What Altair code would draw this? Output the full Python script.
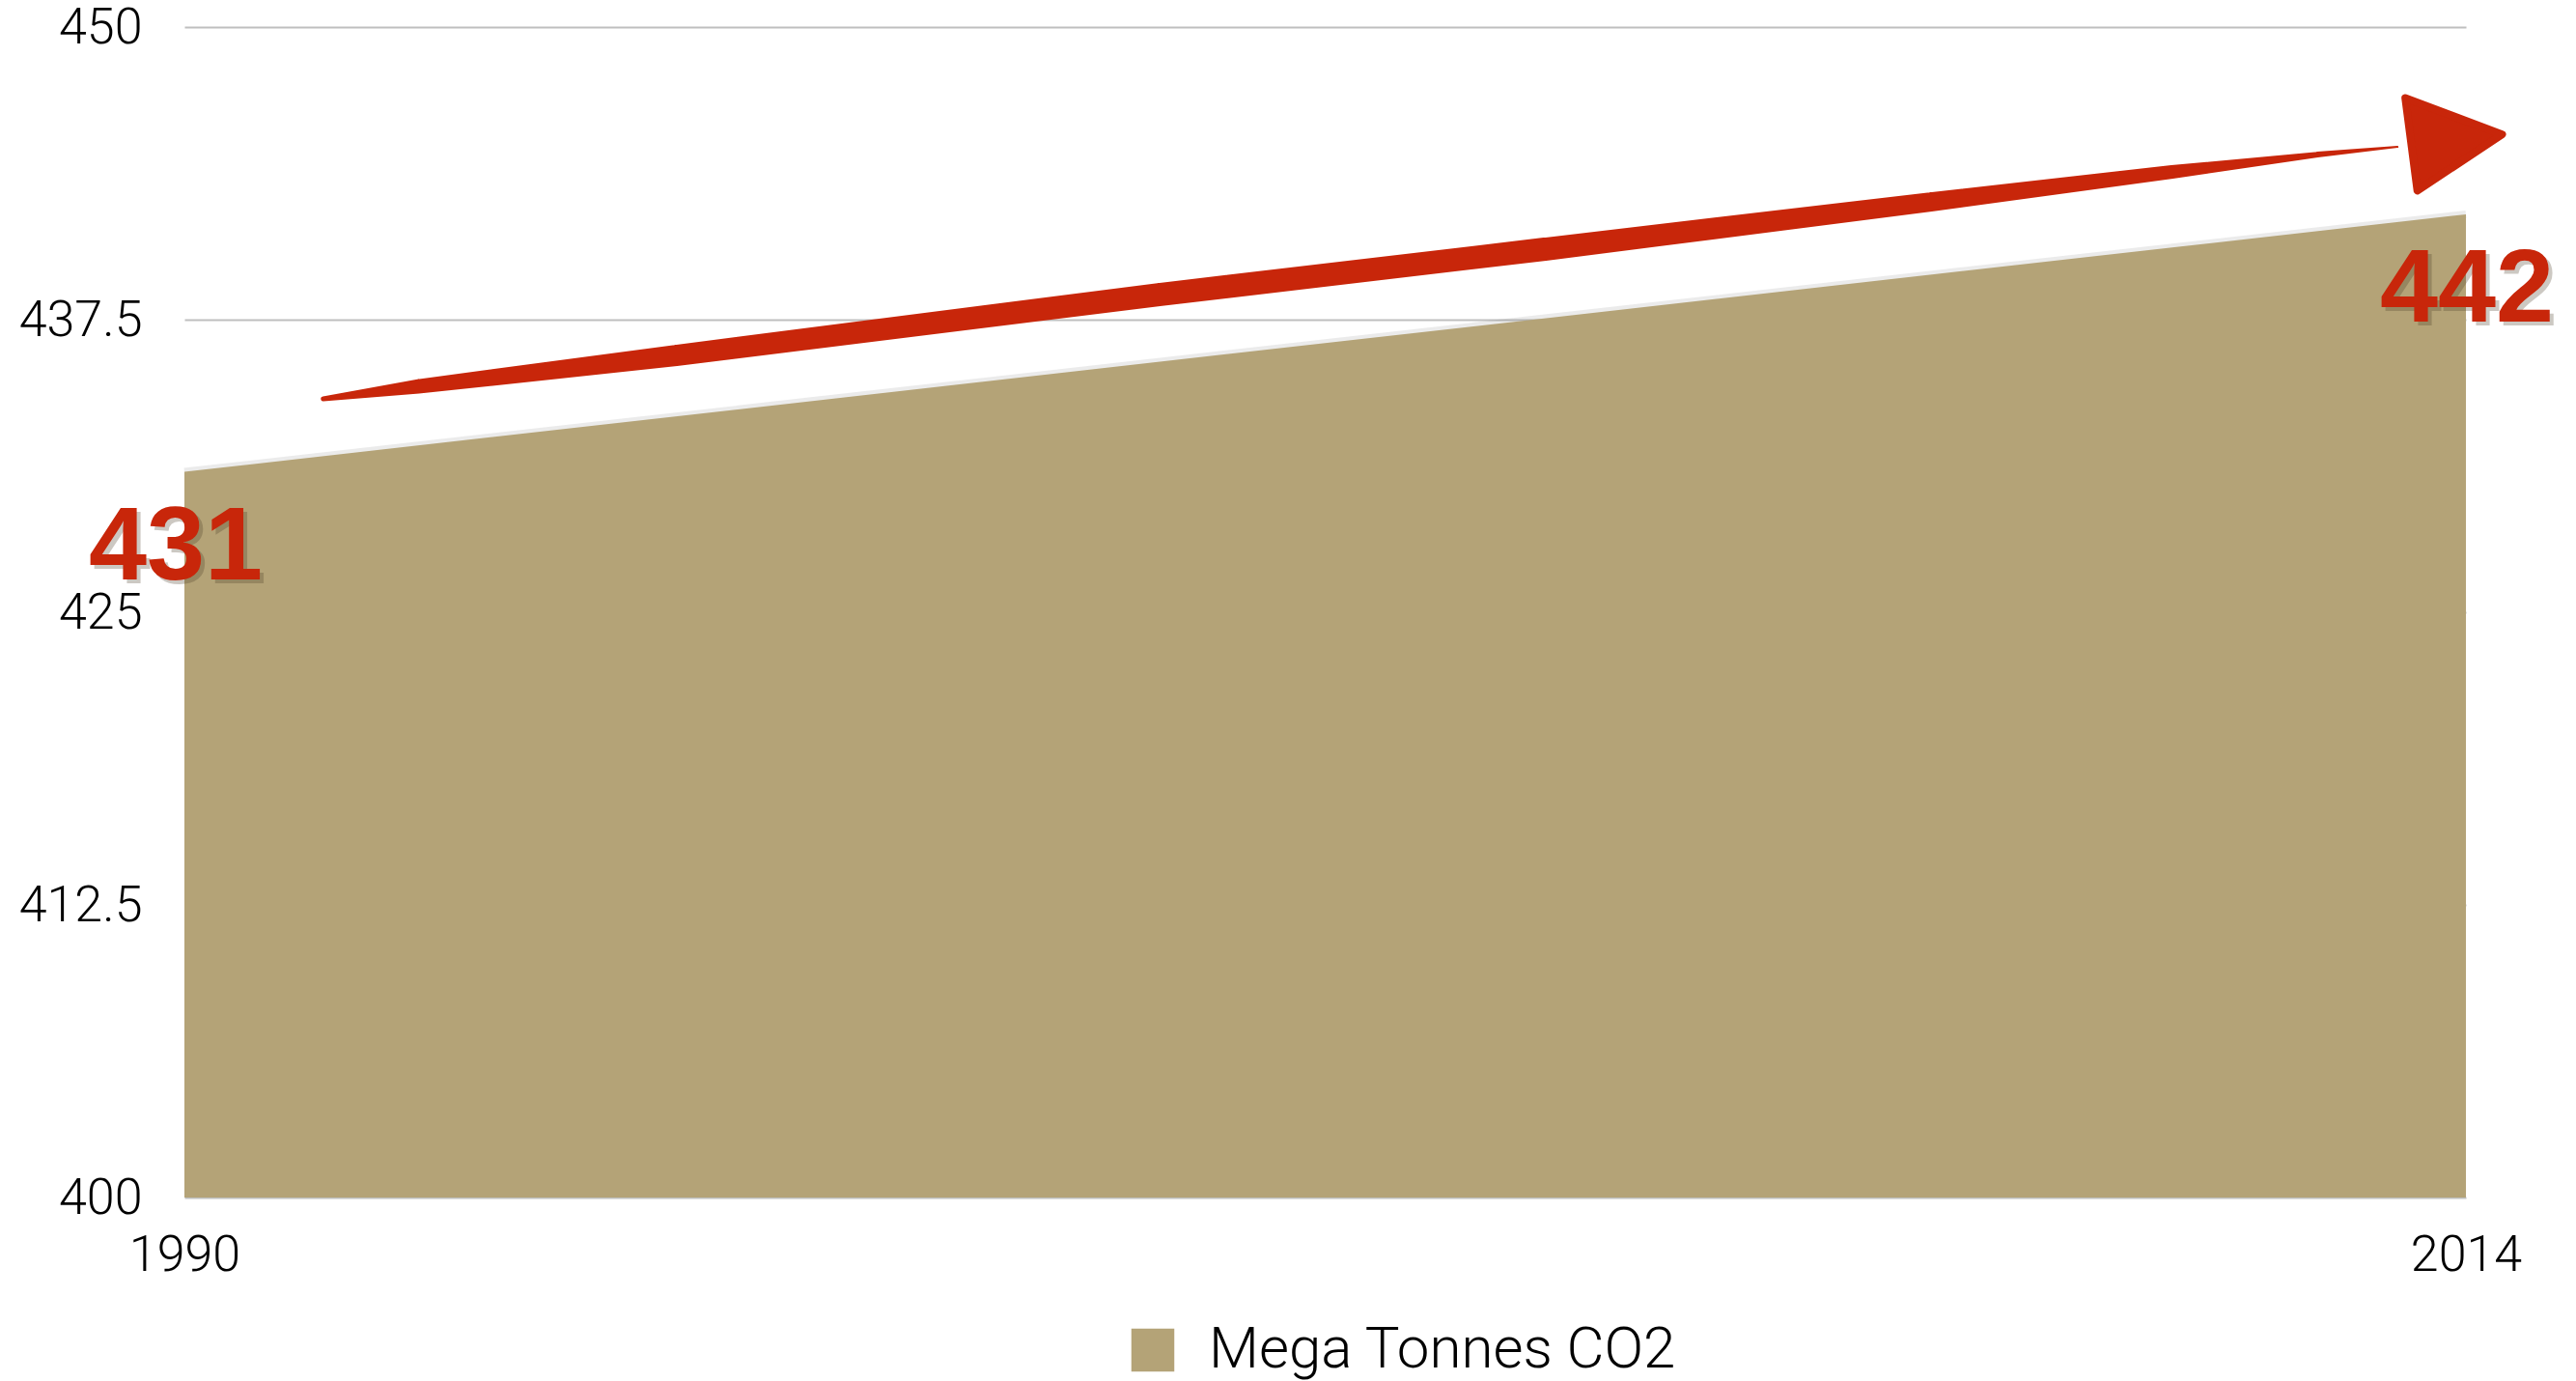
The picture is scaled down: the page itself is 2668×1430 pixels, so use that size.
import altair as alt
import pandas as pd

# ---- data ----
years = [1990, 2014]
emissions = [431, 442]
series_name = "Mega Tonnes CO2"
y_ticks = [400, 412.5, 425, 437.5, 450]
x_ticks = [1990, 2014]
label_texts = ["431", "442"]
baseline_value = 400

# hand-drawn trend arrow annotation (in data coordinates)
arrow_years = [1991.46, 1992.46, 1995.17, 2000.25, 2004.31, 2008.37, 2010.91, 2012.44, 2013.28]
arrow_values = [434.12, 434.65, 435.97, 438.57, 440.51, 442.53, 443.81, 444.55, 444.88]
arrow_widths = [5, 15, 22, 24, 24, 20, 14, 6, 2]
head_year = [2013.86]
head_value = [445.13]

AREA_COLOR = "#B4A377"
RED = "#C8260A"
LIGHT_FONT = "Roboto"

df = pd.DataFrame({"year": years, "value": emissions, "series": [series_name] * len(years),
                   "label": label_texts})
arrow_df = pd.DataFrame({"year": arrow_years, "value": arrow_values, "w": arrow_widths})
head_df = pd.DataFrame({"year": head_year, "value": head_value})

x_scale = alt.Scale(domain=[1990, 2014], nice=False, zero=False)
y_scale = alt.Scale(domain=[400, 450], nice=False, zero=False)

x_axis = alt.Axis(values=x_ticks, format="d", title=None, grid=False, domain=False, ticks=False,
                  labelFlush=False, labelPadding=34, labelFontSize=52, labelFont=LIGHT_FONT,
                  labelFontWeight=300, labelColor="#000000")
y_axis = alt.Axis(values=y_ticks, labelExpr="datum.value", title=None, grid=True, gridColor="#BFBFBF",
                  gridWidth=2, domain=False, ticks=False, labelPadding=44, labelFontSize=52,
                  labelFont=LIGHT_FONT, labelFontWeight=300, labelColor="#000000")

X = alt.X("year:Q", scale=x_scale, axis=x_axis)
Y = alt.Y("value:Q", scale=y_scale, axis=y_axis)

base = alt.Chart(df)

shadow = base.mark_line(color="#7a7a7a", strokeWidth=8, opacity=0.15).encode(x=X, y=Y)

area = base.mark_area(opacity=1).encode(
    x=X, y=Y, y2=alt.datum(baseline_value),
    color=alt.Color("series:N", scale=alt.Scale(domain=[series_name], range=[AREA_COLOR]),
                    legend=alt.Legend(title=None, orient="none", legendX=973, legendY=1340,
                                      symbolType="square", symbolSize=1980, symbolOpacity=1,
                                      symbolStrokeWidth=0, labelFontSize=60, labelFont=LIGHT_FONT,
                                      labelFontWeight=300, labelColor="#000000", labelOffset=28,
                                      labelLimit=0, padding=0)),
)

trail = alt.Chart(arrow_df).mark_trail(color=RED).encode(
    x=X, y=Y, size=alt.Size("w:Q", scale=None, legend=None),
)

head = alt.Chart(head_df).mark_point(
    shape="M -0.86 -0.78 L 0.9 -0.12 L -0.64 0.9 Z", size=13000, filled=True, fill=RED,
    stroke=RED, strokeWidth=8, strokeJoin="round", opacity=1,
).encode(x=X, y=Y)

def big_label(idx, dx):
    sub = base.transform_filter(alt.datum.label == label_texts[idx])
    sh = sub.mark_text(font="Liberation Sans", fontWeight="bold", fontSize=108, color="#4a3c28",
                       opacity=0.28, align="center", baseline="alphabetic", dx=dx + 4, dy=115).encode(
        x=X, y=Y, text="label:N",
    )
    tx = sub.mark_text(font="Liberation Sans", fontWeight="bold", fontSize=108, color=RED,
                       align="center", baseline="alphabetic", dx=dx, dy=111).encode(
        x=X, y=Y, text="label:N",
    )
    return sh + tx

chart = alt.layer(shadow, area, trail, head, big_label(0, -9), big_label(1, 1)).properties(
    width=2363, height=1212,
    autosize=alt.AutoSizeParams(type="none"),
    padding={"left": 191, "top": 28, "right": 114, "bottom": 190},
    background="#ffffff",
).configure_view(stroke=None)

chart.save("out.html", embed_options={"renderer": "svg", "actions": False})
